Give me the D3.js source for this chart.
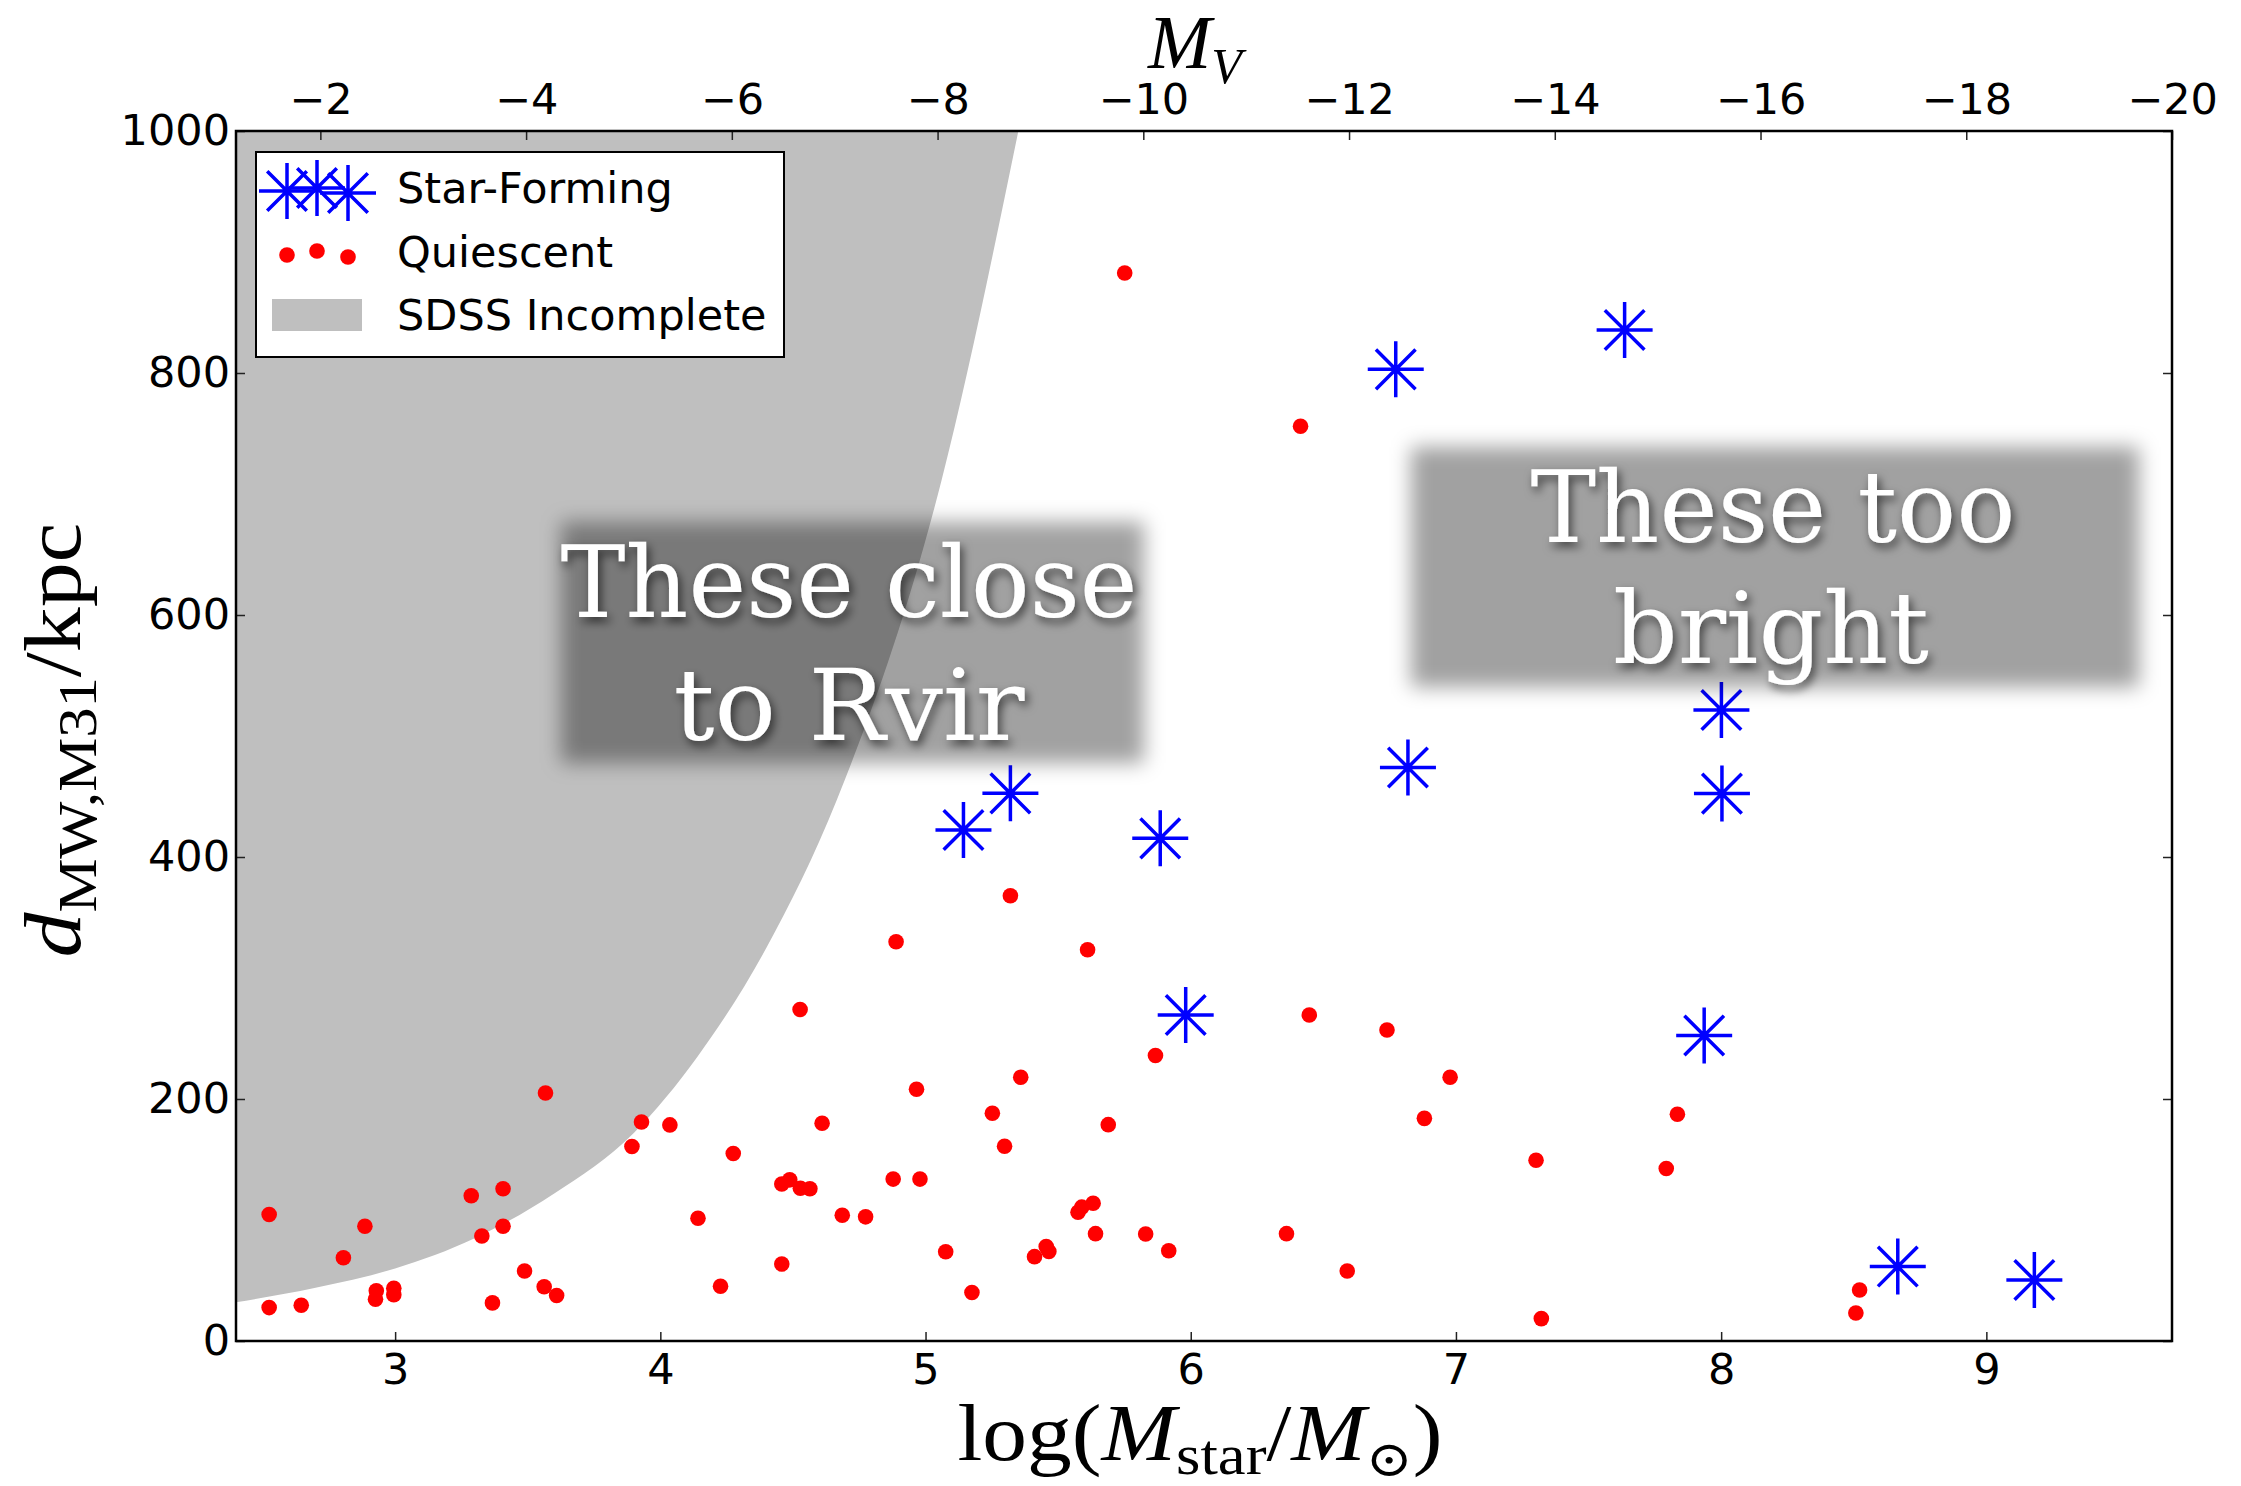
<!DOCTYPE html>
<html>
<head>
<meta charset="utf-8">
<script src="https://cdn.jsdelivr.net/npm/d3@7"></script>
<style>
  body { margin: 0; background: #fff; }
  svg { display: block; }
</style>
</head>
<body>
<script>
// data
const massTicks = [3, 4, 5, 6, 7, 8, 9];
const distTicks = [0, 200, 400, 600, 800, 1000];
const mvTicks = [-2, -4, -6, -8, -10, -12, -14, -16, -18, -20];

const quiescentLogM = [2.525, 2.525, 2.646, 2.805, 2.886, 2.929, 2.926, 2.995, 2.995, 3.287,
    3.327, 3.367, 3.407, 3.407, 3.488, 3.567, 3.562, 3.609, 3.893, 3.929,
    4.036, 4.142, 4.227, 4.275, 4.458, 4.488, 4.528, 4.564, 4.458, 4.527,
    4.61, 4.686, 4.774, 4.878, 4.889, 4.966, 4.979, 5.076, 5.175, 5.252,
    5.298, 5.32, 5.359, 5.411, 5.455, 5.465, 5.575, 5.589, 5.611, 5.632,
    5.641, 5.689, 5.751, 5.83, 5.867, 5.917, 6.361, 6.414, 6.447, 6.59,
    6.74, 6.881, 6.978, 7.302, 7.322, 7.793, 7.835, 8.508, 8.522];
const quiescentDist = [104.5, 27.6, 29.6, 68.8, 94.8, 41.5, 34.5, 43.6, 38.2, 120,
    86.8, 31.5, 125.8, 94.8, 57.8, 205, 44.8, 37.6, 160.8, 181,
    178.6, 101.4, 45.3, 155, 129.7, 133.2, 126.3, 125.8, 63.6, 274,
    180, 103.9, 102.6, 133.8, 330, 208, 133.8, 73.8, 40.1, 188.2,
    161, 368, 218, 69.7, 78, 74, 106.4, 110.6, 323.4, 113.9,
    88.7, 178.8, 882.6, 88.4, 236, 74.6, 88.7, 756, 269.4, 57.8,
    257, 184, 218, 149.4, 18.5, 142.5, 187.4, 23.2, 42.2];

const starFormingLogM = [5.143, 5.32, 5.885, 5.981, 6.773, 6.819, 7.636, 8.001, 8.003, 7.936, 8.666, 9.181];
const starFormingDist = [422.3, 452.6, 415.4, 269.4, 803, 474, 835.5, 521.5, 452.4, 252.5, 61.5, 50.4];

// SDSS incompleteness boundary
const incompleteLogM = [2.4, 2.7, 3.0, 3.3, 3.6, 3.9, 4.14, 4.4, 4.665, 5.06, 5.35];
const incompleteDist = [32, 44, 60, 85, 122, 172, 235, 325, 447, 711, 1000];

const legendLabels = ["Star-Forming", "Quiescent", "SDSS Incomplete"];

document.addEventListener("DOMContentLoaded", function() {

    const width = 2241, height = 1486;
    const margin = { top: 131, right: 69, bottom: 145, left: 236 };
    const tickFont = "'DejaVu Sans', sans-serif";
    const mathFont = "'Liberation Serif', 'DejaVu Serif', serif";

    const svg = d3.select("body").append("svg")
        .attr("width", width)
        .attr("height", height);

    const defs = svg.append("defs");
    defs.append("clipPath").attr("id", "plotClip")
        .append("rect")
        .attr("x", margin.left).attr("y", margin.top)
        .attr("width", width - margin.left - margin.right)
        .attr("height", height - margin.top - margin.bottom);
    defs.append("filter").attr("id", "boxBlur")
        .attr("x", "-20%").attr("y", "-30%").attr("width", "140%").attr("height", "160%")
        .append("feGaussianBlur").attr("stdDeviation", 10);
    defs.append("filter").attr("id", "textShadow")
        .attr("x", "-10%").attr("y", "-20%").attr("width", "120%").attr("height", "150%")
        .append("feDropShadow")
        .attr("dx", 3).attr("dy", 5).attr("stdDeviation", 5)
        .attr("flood-color", "#000").attr("flood-opacity", 0.6);

    const x = d3.scaleLinear().domain([2.4, 9.7]).range([margin.left, width - margin.right]);
    const y = d3.scaleLinear().domain([0, 1000]).range([height - margin.bottom, margin.top]);
    const xTop = d3.scaleLinear().domain([-1.18, -20]).range([margin.left, width - margin.right]);

    // grey incomplete region
    const incomplete = incompleteLogM.map((m, i) => ({ m: m, d: incompleteDist[i] }));
    const area = d3.area()
        .x(d => x(d.m))
        .y0(y(1000))
        .y1(d => y(d.d))
        .curve(d3.curveMonotoneX);
    svg.append("path")
        .datum(incomplete)
        .attr("clip-path", "url(#plotClip)")
        .attr("fill", "#bfbfbf")
        .attr("d", area);

    // asterisk marker
    function asterisk(r) {
        const p = d3.path();
        for (let k = 0; k < 4; k++) {
            const a = k * Math.PI / 4;
            p.moveTo(-r * Math.cos(a), -r * Math.sin(a));
            p.lineTo(r * Math.cos(a), r * Math.sin(a));
        }
        return p.toString();
    }

    const plot = svg.append("g").attr("clip-path", "url(#plotClip)");

    plot.selectAll("circle.q")
        .data(quiescentLogM.map((m, i) => ({ m: m, d: quiescentDist[i] })))
        .enter().append("circle")
        .attr("class", "q")
        .attr("cx", d => x(d.m))
        .attr("cy", d => y(d.d))
        .attr("r", 7.8)
        .attr("fill", "#ff0000");

    plot.selectAll("path.sf")
        .data(starFormingLogM.map((m, i) => ({ m: m, d: starFormingDist[i] })))
        .enter().append("path")
        .attr("class", "sf")
        .attr("transform", d => `translate(${x(d.m)},${y(d.d)})`)
        .attr("d", asterisk(28))
        .attr("fill", "none")
        .attr("stroke", "#0000ff")
        .attr("stroke-width", 3.5);

    // annotation boxes
    const notes = [
        { x0: 561, y0: 522, x1: 1144, y1: 763, lines: [
            { t: "These close", cx: 849, base: 617, len: 577 },
            { t: "to Rvir", cx: 849, base: 740, len: 351 }] },
        { x0: 1411, y0: 447, x1: 2139, y1: 687, lines: [
            { t: "These too", cx: 1773, base: 542, len: 485 },
            { t: "bright", cx: 1771, base: 663, len: 316 }] }
    ];
    notes.forEach(n => {
        svg.append("rect")
            .attr("x", n.x0).attr("y", n.y0)
            .attr("width", n.x1 - n.x0).attr("height", n.y1 - n.y0)
            .attr("fill", "#000").attr("fill-opacity", 0.37)
            .attr("filter", "url(#boxBlur)");
        n.lines.forEach(l => {
            svg.append("text")
                .attr("x", l.cx).attr("y", l.base)
                .attr("text-anchor", "middle")
                .attr("font-family", "'DejaVu Serif', serif")
                .attr("font-size", 99)
                .attr("fill", "#fff")
                .attr("textLength", l.len)
                .attr("lengthAdjust", "spacingAndGlyphs")
                .attr("filter", "url(#textShadow)")
                .text(l.t);
        });
    });

    // axes
    function styleAxis(g) {
        g.select(".domain").remove();
        g.selectAll(".tick line").attr("stroke", "#222").attr("stroke-width", 1.5);
        g.selectAll(".tick text").attr("font-family", tickFont).attr("font-size", 43).attr("fill", "#000");
    }

    svg.append("g")
        .attr("transform", `translate(0,${y(0)})`)
        .call(d3.axisBottom(x).tickValues(massTicks).tickFormat(d3.format("d"))
            .tickSizeInner(-9).tickSizeOuter(0).tickPadding(12.5))
        .call(styleAxis);

    svg.append("g")
        .attr("transform", `translate(0,${y(1000)})`)
        .call(d3.axisTop(xTop).tickValues(mvTicks).tickFormat(d3.format("d"))
            .tickSizeInner(-9).tickSizeOuter(0).tickPadding(17))
        .call(styleAxis);

    svg.append("g")
        .attr("transform", `translate(${x(2.4)},0)`)
        .call(d3.axisLeft(y).tickValues(distTicks).tickFormat(d3.format("d"))
            .tickSizeInner(-9).tickSizeOuter(0).tickPadding(6))
        .call(styleAxis);

    svg.append("g")
        .attr("transform", `translate(${x(9.7)},0)`)
        .call(d3.axisRight(y).tickValues(distTicks).tickFormat("")
            .tickSizeInner(-9).tickSizeOuter(0))
        .call(styleAxis);

    svg.append("rect")
        .attr("x", margin.left).attr("y", margin.top)
        .attr("width", width - margin.left - margin.right)
        .attr("height", height - margin.top - margin.bottom)
        .attr("fill", "none")
        .attr("stroke", "#000")
        .attr("stroke-width", 2.5);

    // legend
    const legend = svg.append("g");
    legend.append("rect")
        .attr("x", 256).attr("y", 152).attr("width", 528).attr("height", 205)
        .attr("fill", "#fff").attr("stroke", "#000").attr("stroke-width", 2);
    const markerX = [287, 317, 348];
    const starY = [191, 188, 193];
    const dotY = [255, 251, 257];
    markerX.forEach((mx, i) => {
        legend.append("path")
            .attr("transform", `translate(${mx},${starY[i]})`)
            .attr("d", asterisk(28))
            .attr("fill", "none").attr("stroke", "#0000ff").attr("stroke-width", 3.5);
        legend.append("circle")
            .attr("cx", mx).attr("cy", dotY[i]).attr("r", 7.8).attr("fill", "#ff0000");
    });
    legend.append("rect")
        .attr("x", 272).attr("y", 299).attr("width", 90).attr("height", 32)
        .attr("fill", "#bfbfbf");
    const legendBase = [203, 267, 330];
    legendLabels.forEach((t, i) => {
        legend.append("text")
            .attr("x", 397).attr("y", legendBase[i])
            .attr("font-family", tickFont).attr("font-size", 43)
            .text(t);
    });

    // axis titles
    const xl = svg.append("text")
        .attr("x", 1200).attr("y", 1460)
        .attr("text-anchor", "middle")
        .attr("font-family", mathFont).attr("font-size", 80)
        .attr("textLength", 485).attr("lengthAdjust", "spacingAndGlyphs");
    xl.append("tspan").text("log(");
    xl.append("tspan").attr("font-style", "italic").text("M");
    xl.append("tspan").attr("font-size", 56).attr("dy", 14).text("star");
    xl.append("tspan").attr("dy", -14).text("/");
    xl.append("tspan").attr("font-style", "italic").text("M");
    xl.append("tspan").attr("font-size", 50).attr("dy", 16).text("\u2299");
    xl.append("tspan").attr("dy", -16).text(")");

    const yl = svg.append("text")
        .attr("transform", "translate(80,740) rotate(-90)")
        .attr("text-anchor", "middle")
        .attr("font-family", mathFont).attr("font-size", 80)
        .attr("textLength", 435).attr("lengthAdjust", "spacingAndGlyphs");
    yl.append("tspan").attr("font-style", "italic").text("d");
    yl.append("tspan").attr("font-size", 54).attr("dy", 16).text("MW,M31");
    yl.append("tspan").attr("dy", -16).text("/kpc");

    const tl = svg.append("text")
        .attr("x", 1148).attr("y", 68)
        .attr("font-family", mathFont).attr("font-size", 76)
        .attr("font-style", "italic");
    tl.append("tspan").text("M");
    tl.append("tspan").attr("font-size", 50).attr("dy", 15).text("V");
});
</script>
</body>
</html>
